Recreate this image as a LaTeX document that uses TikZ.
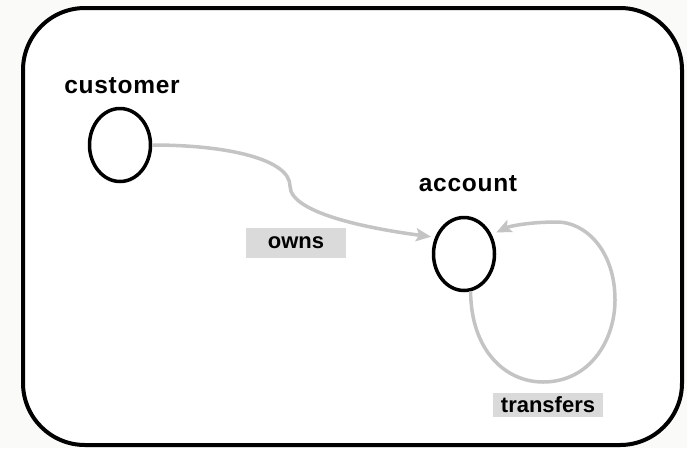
\documentclass[tikz,border=0pt]{standalone}
\usepackage{fontspec}
\setmainfont{Liberation Sans}
\newfontfamily\lblfont[LetterSpace=3]{Liberation Sans}
\usetikzlibrary{shapes.geometric,arrows.meta}
\definecolor{edgegray}{HTML}{C4C4C4}
\definecolor{boxgray}{HTML}{DADADA}
\definecolor{pagebg}{HTML}{FAFAF8}
\tikzset{
  entity/.style={ellipse, draw=black, line width=3.5pt, inner sep=0pt, minimum width=61pt, minimum height=73pt},
  title/.style={font=\fontsize{24.5}{26}\selectfont\lblfont\bfseries, anchor=base, inner sep=0pt},
  rel/.style={fill=boxgray, font=\fontsize{22}{24}\selectfont\bfseries, inner sep=0pt},
  conn/.style={draw=edgegray, line width=3.5pt, -{Stealth[length=15pt,width=13pt,inset=3pt]}}
}
\begin{document}
\begin{tikzpicture}[x=1pt,y=-1pt]
\useasboundingbox (0,0) rectangle (687,448);
\fill[pagebg] (0,0) rectangle (687,448);
\draw[line width=4pt, fill=white, rounded corners=62pt] (23,8) rectangle (682,445);
\node[entity] (c) at (120,145) {};
\node[entity] (a) at (464,254) {};
\node[title] (ct) at (122,93) {customer};
\node[title] (at) at (468,191) {account};
\node[rel, minimum width=100pt, minimum height=30pt] (ow) at (296,242.5) {owns};
\node[rel, minimum width=110pt, minimum height=24pt] (tr) at (548,405) {transfers};
\draw[conn, shorten >=4pt] (c.east) .. controls (230,145) and (290,160) .. (290,186)
  .. controls (290,215) and (380,230) .. (a.150);
\draw[conn, shorten >=5pt] (a.-80) .. controls (471,350) and (505,382) .. (543,382)
  .. controls (590,382) and (615,340) .. (615,300)
  .. controls (615,250) and (585,222) .. (557,222)
  .. controls (530,222) and (510,226) .. (a.35);
\end{tikzpicture}
\end{document}
